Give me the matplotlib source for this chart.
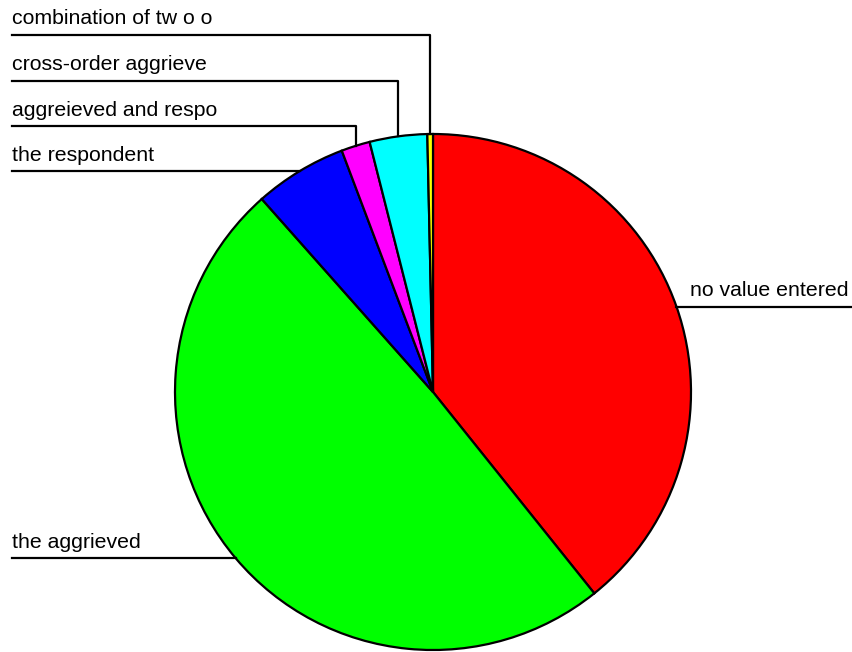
import matplotlib
matplotlib.use("Agg")
import matplotlib.pyplot as plt
import numpy as np

labels = ["no value entered", "the aggrieved", "the respondent",
          "aggreieved and respo", "cross-order aggrieve", "combination of tw o o"]
values = [39.25, 49.2, 5.8, 1.8, 3.6, 0.35]
colors = ["#ff0000", "#00ff00", "#0000ff", "#ff00ff", "#00ffff", "#ffff00"]

W, H = 853, 652
plt.rcParams['font.family'] = ['Liberation Sans', 'DejaVu Sans']

fig = plt.figure(figsize=(W / 100, H / 100), dpi=100)
ax = fig.add_axes([0, 0, 1, 1])

cx, cy, r = 433, H - 392, 258
wedges, _ = ax.pie(values, colors=colors, startangle=90, counterclock=False,
                   center=(cx, cy), radius=r, frame=True,
                   wedgeprops=dict(edgecolor='black', linewidth=1.6))
ax.set_xlim(0, W)
ax.set_ylim(0, H)
ax.axis('off')

# leader lines from the middle of each wedge's outer edge
fs = 15.3
top_rows = {3: 126, 4: 81, 5: 35}   # pixel rows of the stepped leaders
for i, w in enumerate(wedges):
    mid = np.deg2rad((w.theta1 + w.theta2) / 2)
    px, py = cx + r * np.cos(mid), cy + r * np.sin(mid)
    if i == 0:
        ax.plot([px, W], [py, py], color='black', lw=1.6)
        ax.text(690, py + 10.5, labels[i], fontsize=fs, va='baseline', ha='left')
    elif i in top_rows:
        ly = H - top_rows[i]
        ax.plot([12, px, px], [ly, ly, py], color='black', lw=1.6)
        ax.text(12, ly + 10.5, labels[i], fontsize=fs, va='baseline', ha='left')
    else:
        ax.plot([12, px], [py, py], color='black', lw=1.6)
        ax.text(12, py + 10.5, labels[i], fontsize=fs, va='baseline', ha='left')

fig.savefig("out.png", dpi=100, facecolor='white')
